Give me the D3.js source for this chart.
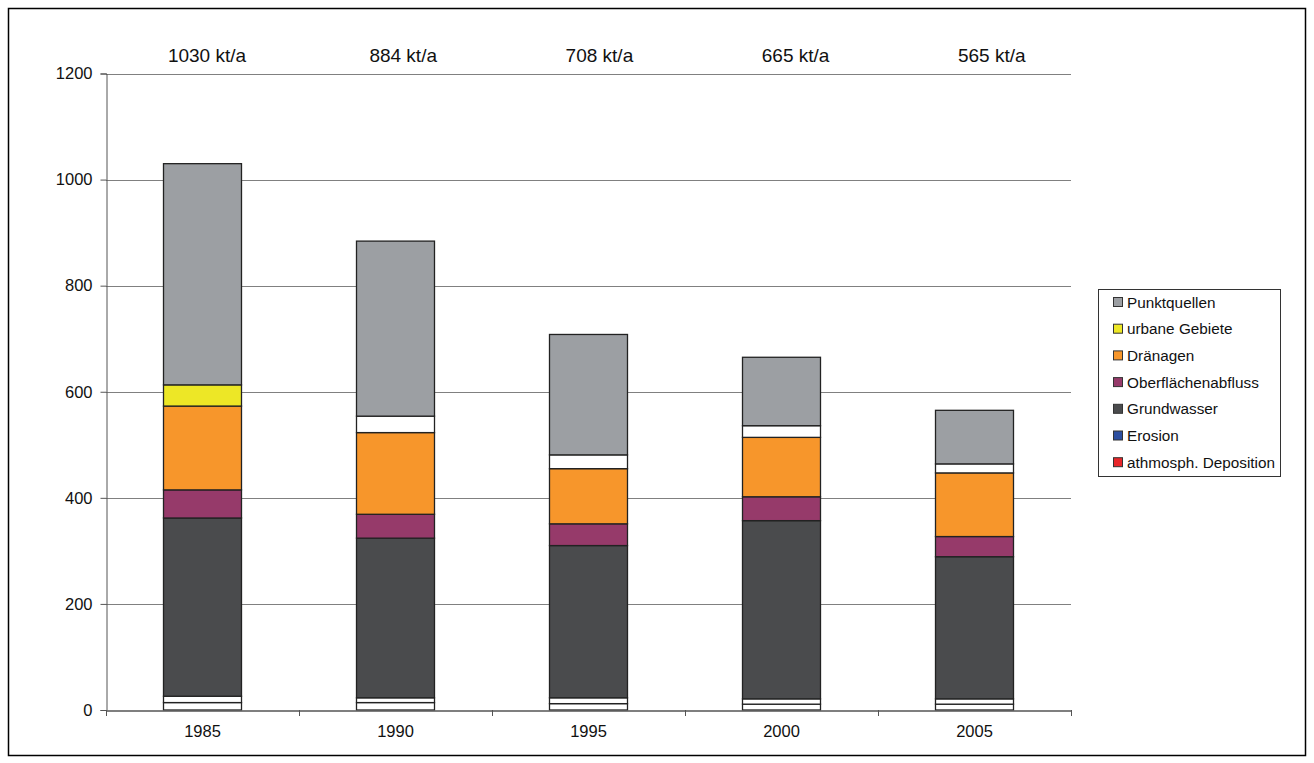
<!DOCTYPE html>
<html><head><meta charset="utf-8">
<script src="https://cdn.jsdelivr.net/npm/d3@7"></script>
<style>body{margin:0;background:#fff}svg{display:block}text{font-family:"Liberation Sans",Arial,sans-serif}</style>
</head><body>
<script>
const years = ["1985","1990","1995","2000","2005"];
const totalLabels = ["1030 kt/a","884 kt/a","708 kt/a","665 kt/a","565 kt/a"];
const seriesNames = ["athmosph. Deposition","Erosion","Grundwasser","Oberflächenabfluss","Dränagen","urbane Gebiete","Punktquellen"];
const deposition = [14,14,12,11,11];
const erosion = [12,9,11,10,10];
const grundwasser = [336,301,287,336,268];
const oberflaeche = [53,45,41,45,38];
const draenagen = [158,154,104,112,120];
const urban = [40,31,26,22,17];
const punktquellen = [417,330,227,129,101];
const yTicks = [0,200,400,600,800,1000,1200];

const seriesValues = [deposition,erosion,grundwasser,oberflaeche,draenagen,urban,punktquellen];
const legendColors = ["#e8262a","#2c4ea0","#4a4b4d","#963a6a","#f7962b","#ede726","#9c9fa3"];
// fills as drawn in the bars of the original (some segments rendered white)
function barFill(si, yi){
  if (si===0 || si===1) return "#ffffff";
  if (si===5 && yi>0) return "#ffffff";
  return legendColors[si];
}

const W=1314,H=763;
const svg=d3.select("body").append("svg").attr("width",W).attr("height",H);
svg.append("rect").attr("x",8.5).attr("y",8.5).attr("width",1297).attr("height",747)
  .attr("fill","#fff").attr("stroke","#000").attr("stroke-width",1.5);

const x=d3.scaleBand().domain(years).range([106,1071]).paddingInner(0).paddingOuter(0);
const y=d3.scaleLinear().domain([0,1200]).range([710,73.5]);

// gridlines
svg.append("g").selectAll("line").data(yTicks.filter(d=>d>0)).join("line")
  .attr("x1",106).attr("x2",1071).attr("y1",d=>Math.round(y(d))+0.5).attr("y2",d=>Math.round(y(d))+0.5)
  .attr("stroke","#808080").attr("stroke-width",1.2);

// y axis
const yAxis=d3.axisLeft(y).tickValues(yTicks).tickSize(6).tickPadding(8).tickFormat(d3.format("d"));
const gy=svg.append("g").attr("transform","translate(106.5,0)").call(yAxis);
gy.select(".domain").attr("stroke","#555");
gy.selectAll(".tick line").attr("stroke","#555");
gy.selectAll("text").attr("font-size",16.5).attr("fill","#111").attr("font-family","Liberation Sans, Arial");

// stacked data
const table=years.map((yr,i)=>{const o={year:yr};seriesNames.forEach((s,si)=>o[s]=seriesValues[si][i]);return o;});
const stack=d3.stack().keys(seriesNames)(table);
const bw=78;
stack.forEach((layer,si)=>{
  svg.append("g").selectAll("rect").data(layer).join("rect")
    .attr("x",(d,i)=>x(years[i])+x.bandwidth()/2-bw/2)
    .attr("y",d=>y(d[1]))
    .attr("width",bw)
    .attr("height",d=>y(d[0])-y(d[1]))
    .attr("fill",(d,i)=>barFill(si,i))
    .attr("stroke","#222").attr("stroke-width",1.3);
});

// x axis
const xAxis=d3.axisBottom(x).tickSize(0).tickPadding(15);
const gx=svg.append("g").attr("transform","translate(0,710.5)").call(xAxis);
gx.select(".domain").attr("stroke","#555").attr("stroke-width",1.3);
gx.selectAll("text").attr("font-size",16.5).attr("fill","#111").attr("font-family","Liberation Sans, Arial");
svg.append("g").selectAll("line").data(d3.range(years.length+1)).join("line")
  .attr("x1",i=>i<years.length?x(years[i])+0.5:1071.5).attr("x2",i=>i<years.length?x(years[i])+0.5:1071.5)
  .attr("y1",710).attr("y2",716).attr("stroke","#555");

// top total labels
svg.append("g").selectAll("text").data(years).join("text")
  .attr("x",(d,i)=>x(d)+x.bandwidth()/2+4.5+i*3.2).attr("y",62)
  .attr("text-anchor","middle").attr("font-size",19).attr("fill","#111")
  .text((d,i)=>totalLabels[i]);

// legend
const lg=svg.append("g");
lg.append("rect").attr("x",1098.5).attr("y",289.5).attr("width",182).attr("height",187)
  .attr("fill","#fff").attr("stroke","#333").attr("stroke-width",1);
const order=[6,5,4,3,2,1,0];
order.forEach((si,k)=>{
  const cy=302+k*26.7;
  lg.append("rect").attr("x",1113.5).attr("y",cy-4.5).attr("width",9).attr("height",9)
    .attr("fill",legendColors[si]).attr("stroke","#333").attr("stroke-width",1);
  lg.append("text").attr("x",1127).attr("y",cy+5.5).attr("font-size",15.3).attr("fill","#111").text(seriesNames[si]);
});
</script>
</body></html>
